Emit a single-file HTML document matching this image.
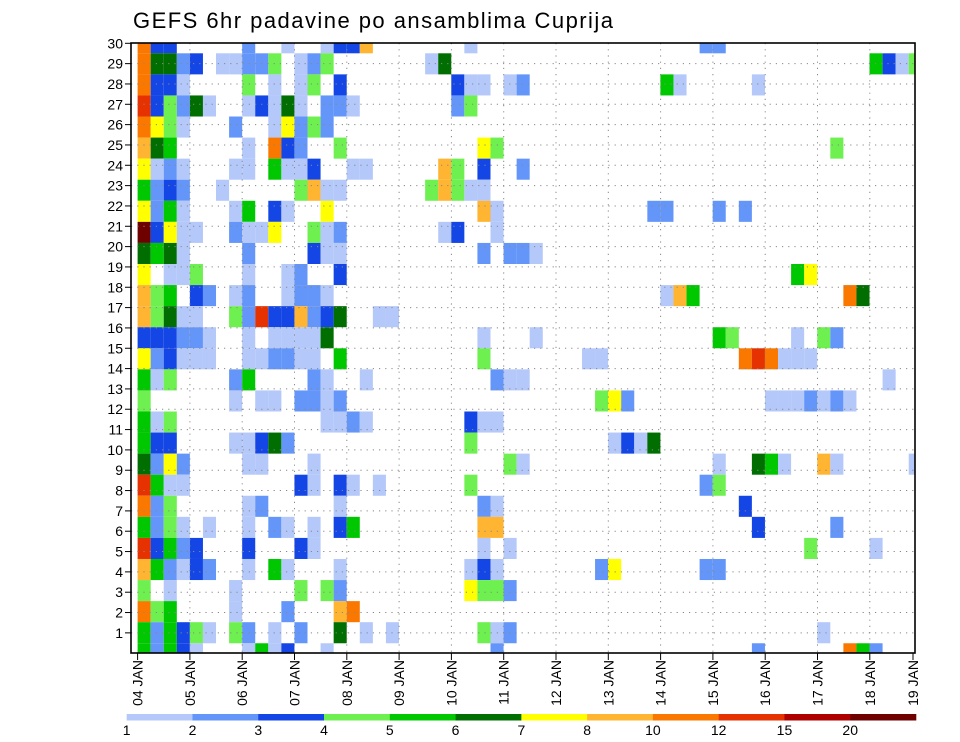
<!DOCTYPE html>
<html>
<head>
<meta charset="utf-8">
<style>
  html,body{margin:0;padding:0;background:#fff;}
  svg{display:block;font-family:"Liberation Sans",sans-serif;}
</style>
</head>
<body>
<svg id="chart" width="960" height="742" viewBox="0 0 960 742" xmlns="http://www.w3.org/2000/svg">
  <text x="133" y="28" font-size="22" textLength="480" fill="#000">GEFS 6hr padavine po ansamblima Cuprija</text>
  <g id="cells"></g>
  <g id="grid"></g>
  <rect x="131" y="43" width="784" height="610" fill="none" stroke="#000" stroke-width="1.6"/>
  <g id="yaxis"></g>
  <g id="xaxis"></g>
  <g id="cbar"></g>
</svg>
<script>
// ---- data ----
const levelLabels = ["1","2","3","4","5","6","7","8","10","12","15","20"];
const levelColors = ["#b4c8fa","#6496fa","#1446e6","#6ef050","#00c800","#006e00","#ffff00","#ffb432","#fa7800","#e63200","#af0000","#6e0000"];
const dayLabels = ["04 JAN","05 JAN","06 JAN","07 JAN","08 JAN","09 JAN","10 JAN","11 JAN","12 JAN","13 JAN","14 JAN","15 JAN","16 JAN","17 JAN","18 JAN","19 JAN"];
const memberLabels = [30,29,28,27,26,25,24,23,22,21,20,19,18,17,16,15,14,13,12,11,10,9,8,7,6,5,4,3,2,1];
// each row: "col(or range):level" where level 1..9,A,B,C indexes levelColors
const memberRows = [
"0:9 1-2:3 8:2 11:1 14:1 15-16:3 17:8 25:1 43-44:2",
"0:9 1-2:6 3:2 4:3 6-7:1 8-9:2 10:4 12:1 13:2 14:4 22:1 23:6 56:5 57:3 58:1 59:4",
"0:9 1-2:3 3:1 8:4 10:1 12:1 13:4 15:3 24:3 25-26:1 28:1 29:2 40:5 41:1 47:1",
"0:A 1:3 2:4 3:2 4:6 5:1 8:1 9:3 10:1 11:6 12:1 14-15:2 16:1 24:2 25:4",
"0:9 1:7 2:4 3:1 7:2 10:1 11:7 12:2 13:4 14:2",
"0:8 1:6 2:5 8:1 10:9 11:3 12:2 15:4 26:7 27:4 53:4",
"0:7 1:1 2:2 3:1 7-8:1 10:5 11:1 12:1 13:3 16-17:1 23:8 24:4 26:3 29:2",
"0:5 1:2 2:3 3:2 6:1 12:4 13:8 14-15:1 22:4 23:8 24:4 25-26:1",
"0:7 1:2 2:5 3:1 7:1 8:5 10:3 11:1 14:7 26:8 27:1 39-40:2 44:2 46:2",
"0:C 1:3 2:7 3-4:1 7:2 8-9:1 10:7 13:4 14:1 15:2 23:1 24:3 27:1",
"0:6 1:5 2:6 3:1 8:2 13:3 14-15:1 26:2 28-29:2 30:1",
"0:7 2-3:1 4:4 8:1 11:1 12:2 15:3 50:5 51:7",
"0:8 1:4 2:5 4:3 5:2 7:1 8:2 11:1 12-13:2 14:1 40:1 41:8 42:5 54:9 55:6",
"0:8 1:4 2:6 3-4:1 7:4 8:2 9:A 10-11:3 12:8 13:2 14:3 15:6 18-19:1",
"0:3 1:3 2:3 3-4:2 5:1 8:1 10-13:1 14:6 26:1 30:1 44:5 45:4 50:1 52:4 53:2",
"0:7 1:2 2:3 3-5:1 8-9:1 10-11:2 12-13:1 15:5 26:4 34-35:1 46:9 47:A 48:9 49-51:1",
"0:5 1:1 2:4 7:2 8:5 13:2 14:1 17:1 27:2 28-29:1 57:1",
"0:4 7:1 9-10:1 12-13:2 14:1 15:2 35:4 36:7 37:2 48-50:1 51:2 52:1 53:2 54:1",
"0:5 1:1 2:4 14-15:1 16:2 17:1 25:3 26-27:1",
"0:5 1-2:3 7-8:1 9:3 10:6 11:2 25:4 36:1 37:3 38:1 39:6",
"0:6 1:2 2:7 3:2 8-9:1 13:1 28:4 29:1 44:1 47:6 48:5 49:1 52:8 53:1 59:1",
"0:A 1:5 2-3:1 12:3 13:1 15:3 16:1 18:1 25:4 43:2 44:4",
"0:9 1:2 2:4 8:1 9:2 15:1 26:2 27:1 46:3",
"0:5 1:2 2:4 3:1 5:1 8:1 10:2 11:1 13:1 15:3 16:5 26-27:8 47:3 53:2",
"0:A 1:3 2:5 3:2 4:3 8:3 12:3 13:1 26:1 28:1 51:4 56:1",
"0:8 1:5 2:2 3:1 4:3 5:2 8:1 10:5 11:1 15:1 25:1 26:3 27:1 35:2 36:7 43-44:2",
"0:4 2:1 7:1 12:4 14:4 15:2 25:7 26-27:4 28:2",
"0:9 1:4 2:5 7:1 11:2 15:8 16:9",
"0:5 1:2 2:5 3:3 4:4 5:1 7:4 8:2 10:1 12:2 15:6 17:1 19:1 26:4 27:1 28:2 52:1",
"0:5 1:2 2:5 3:3 4:1 8:1 9:5 10:1 11:3 14:1 27:2 47:2 54:9 55:5 56:2"
];

// ---- geometry / scales ----
const NS = "http://www.w3.org/2000/svg";
const PL = 131, PT = 43, PR = 915, PB = 653;
const X0 = 137.6, COLW = 13.07, DAYW = 52.3;
const ROW0 = 53.3, ROWH = 21.07;
const xCol = c => X0 + COLW * c;
const yRow = k => ROW0 + (k - 1) * ROWH;
const xDay = d => d === 15 ? 913 : X0 + DAYW * d;
const yLabel = j => 43.3 + 20.33 * j;
function el(tag, attrs, parent) {
  const e = document.createElementNS(NS, tag);
  for (const k in attrs) e.setAttribute(k, attrs[k]);
  parent.appendChild(e);
  return e;
}
const levelOf = ch => "123456789ABC".indexOf(ch);

// ---- cells ----
const cellsG = document.getElementById("cells");
memberRows.forEach((row, k) => {
  row.split(" ").filter(Boolean).forEach(tok => {
    const [range, code] = tok.split(":");
    const parts = range.split("-").map(Number);
    const a = parts[0], b = parts.length > 1 ? parts[1] : parts[0];
    const lv = levelOf(code);
    for (let c = a; c <= b; c++) {
      let x1 = xCol(c), x2 = Math.min(xCol(c + 1), PR);
      let y1 = Math.max(yRow(k), PT), y2 = Math.min(yRow(k + 1), PB);
      const r = el("rect", {x: x1, y: y1, width: x2 - x1, height: y2 - y1, fill: levelColors[lv]}, cellsG);
      
      
    }
  });
});

// ---- grid ----
const gridG = document.getElementById("grid");
for (let d = 1; d < 15; d++) {
  const l = el("line", {x1: xDay(d), x2: xDay(d), y1: PT, y2: PB, stroke: "#888", "stroke-width": 1, "stroke-dasharray": "1.2,5"}, gridG);
  
  
}
for (let j = 1; j < memberLabels.length; j++) {
  const l = el("line", {x1: PL, x2: PR, y1: yLabel(j), y2: yLabel(j), stroke: "#888", "stroke-width": 1, "stroke-dasharray": "1.2,5"}, gridG);
  
  
}

// ---- y axis ----
const yG = document.getElementById("yaxis");
memberLabels.forEach((m, j) => {
  const y = yLabel(j);
  const t = el("line", {x1: 125, x2: PL, y1: y, y2: y, stroke: "#000", "stroke-width": 1}, yG);
  
  
  const tx = el("text", {x: 123, y: y + 5, "font-size": 14, "text-anchor": "end", fill: "#000"}, yG);
  tx.textContent = m;
  
  
});

// ---- x axis ----
const xG = document.getElementById("xaxis");
dayLabels.forEach((lab, d) => {
  const x = xDay(d);
  const t = el("line", {x1: x, x2: x, y1: PB, y2: PB + 7, stroke: "#000", "stroke-width": 1}, xG);
  
  
  const tx = el("text", {x: x, y: 660, dy: 5, "font-size": 14, "text-anchor": "end", fill: "#000", transform: `rotate(-90 ${x} 660)`}, xG);
  tx.textContent = lab;
  
  
});

// ---- color bar ----
const cG = document.getElementById("cbar");
const CB0 = 126.7, CBW = (916 - 126.7) / levelColors.length;
levelColors.forEach((col, i) => {
  const r = el("rect", {x: CB0 + CBW * i, y: 714, width: CBW + 0.3, height: 6.5, fill: col}, cG);
  
  
});
levelLabels.forEach((lab, i) => {
  const tx = el("text", {x: CB0 + CBW * i, y: 735, "font-size": 14, "text-anchor": "middle", fill: "#000"}, cG);
  tx.textContent = lab;
  
  
});
</script>
</body>
</html>
